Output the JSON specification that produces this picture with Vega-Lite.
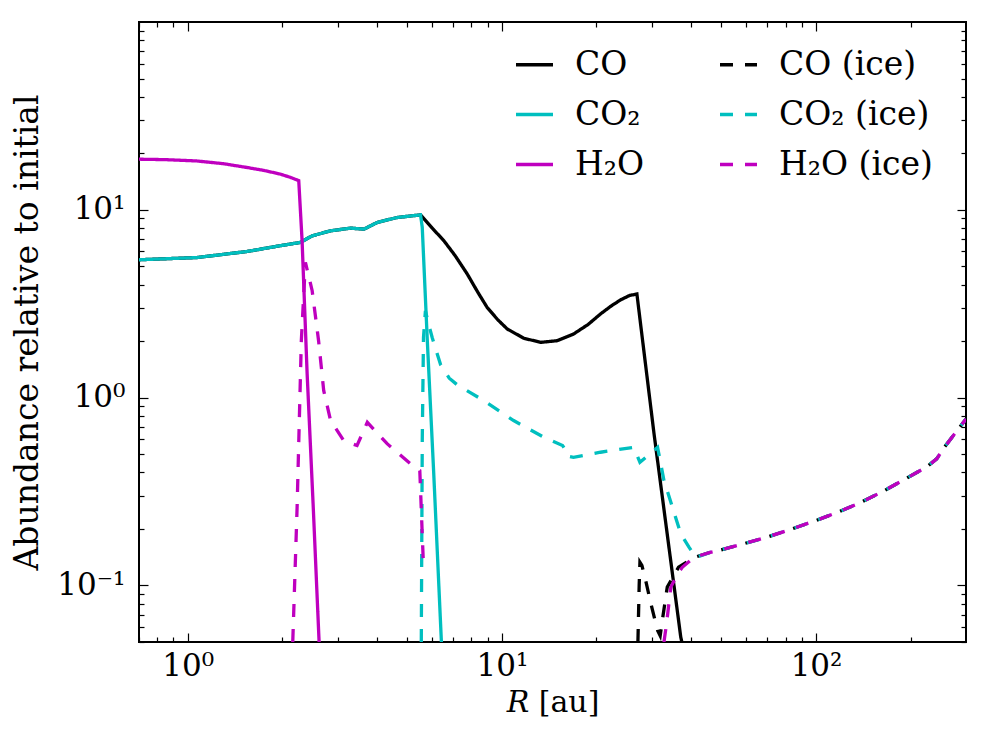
{
  "$schema": "https://vega.github.io/schema/vega-lite/v6.json",
  "width": 827,
  "height": 620,
  "autosize": {"type": "none"},
  "padding": {"left": 139, "top": 22, "right": 30, "bottom": 105},
  "background": "white",
  "config": {
    "font": "DejaVu Serif",
    "view": {"stroke": "black", "strokeWidth": 2},
    "axis": {
      "grid": false,
      "domain": false,
      "tickColor": "black",
      "tickWidth": 1.2,
      "labelColor": "black",
      "titleColor": "black",
      "labelFont": "DejaVu Serif",
      "titleFont": "DejaVu Serif",
      "labelFontSize": 31,
      "titleFontSize": 33,
      "titleFontWeight": "normal",
      "labelFlush": false,
      "labelOverlap": false
    },
    "legend": {
      "orient": "none",
      "legendX": 375,
      "legendY": 22,
      "columns": 2,
      "symbolType": "stroke",
      "symbolSize": 1369,
      "symbolStrokeWidth": 3.3,
      "labelFont": "DejaVu Serif",
      "labelFontSize": 33,
      "labelColor": "black",
      "labelOffset": 20,
      "labelLimit": 400,
      "columnPadding": 68,
      "rowPadding": 12,
      "padding": 0
    }
  },
  "data": {
    "values": [
      {"s": "CO", "p": 0, "x": 0.7, "y": 5.42},
      {"s": "CO", "p": 0, "x": 1.07, "y": 5.57},
      {"s": "CO", "p": 0, "x": 1.546, "y": 6.0},
      {"s": "CO", "p": 0, "x": 1.97, "y": 6.44},
      {"s": "CO", "p": 0, "x": 2.28, "y": 6.7},
      {"s": "CO", "p": 0, "x": 2.49, "y": 7.27},
      {"s": "CO", "p": 0, "x": 2.85, "y": 7.73},
      {"s": "CO", "p": 0, "x": 3.3, "y": 7.99},
      {"s": "CO", "p": 0, "x": 3.64, "y": 7.89},
      {"s": "CO", "p": 0, "x": 4.01, "y": 8.56},
      {"s": "CO", "p": 0, "x": 4.64, "y": 9.1},
      {"s": "CO", "p": 0, "x": 5.51, "y": 9.4},
      {"s": "CO", "p": 0, "x": 6.0, "y": 8.0},
      {"s": "CO", "p": 0, "x": 6.54, "y": 6.84},
      {"s": "CO", "p": 0, "x": 7.1, "y": 5.7},
      {"s": "CO", "p": 0, "x": 7.76, "y": 4.55},
      {"s": "CO", "p": 0, "x": 8.4, "y": 3.62},
      {"s": "CO", "p": 0, "x": 8.98, "y": 3.02},
      {"s": "CO", "p": 0, "x": 9.7, "y": 2.6},
      {"s": "CO", "p": 0, "x": 10.4, "y": 2.32},
      {"s": "CO", "p": 0, "x": 11.75, "y": 2.07},
      {"s": "CO", "p": 0, "x": 13.3, "y": 1.97},
      {"s": "CO", "p": 0, "x": 15.0, "y": 2.01},
      {"s": "CO", "p": 0, "x": 16.9, "y": 2.18},
      {"s": "CO", "p": 0, "x": 18.8, "y": 2.45},
      {"s": "CO", "p": 0, "x": 20.6, "y": 2.79},
      {"s": "CO", "p": 0, "x": 22.3, "y": 3.08},
      {"s": "CO", "p": 0, "x": 23.9, "y": 3.32},
      {"s": "CO", "p": 0, "x": 25.5, "y": 3.5},
      {"s": "CO", "p": 0, "x": 26.9, "y": 3.56},
      {"s": "CO", "p": 0, "x": 30.5, "y": 0.641},
      {"s": "CO", "p": 0, "x": 37.1, "y": 0.053},
      {"s": "CO", "p": 0, "x": 37.4, "y": 0.05},

      {"s": "CO₂", "p": 0, "x": 0.7, "y": 5.42},
      {"s": "CO₂", "p": 0, "x": 1.07, "y": 5.57},
      {"s": "CO₂", "p": 0, "x": 1.546, "y": 6.0},
      {"s": "CO₂", "p": 0, "x": 1.97, "y": 6.44},
      {"s": "CO₂", "p": 0, "x": 2.28, "y": 6.7},
      {"s": "CO₂", "p": 0, "x": 2.49, "y": 7.27},
      {"s": "CO₂", "p": 0, "x": 2.85, "y": 7.73},
      {"s": "CO₂", "p": 0, "x": 3.3, "y": 7.99},
      {"s": "CO₂", "p": 0, "x": 3.64, "y": 7.89},
      {"s": "CO₂", "p": 0, "x": 4.01, "y": 8.56},
      {"s": "CO₂", "p": 0, "x": 4.64, "y": 9.1},
      {"s": "CO₂", "p": 0, "x": 5.51, "y": 9.4},
      {"s": "CO₂", "p": 0, "x": 5.58, "y": 8.05},
      {"s": "CO₂", "p": 0, "x": 5.79, "y": 2.01},
      {"s": "CO₂", "p": 0, "x": 6.07, "y": 0.393},
      {"s": "CO₂", "p": 0, "x": 6.42, "y": 0.05},

      {"s": "H₂O", "p": 0, "x": 0.7, "y": 18.6},
      {"s": "H₂O", "p": 0, "x": 0.85, "y": 18.5},
      {"s": "H₂O", "p": 0, "x": 1.07, "y": 18.2},
      {"s": "H₂O", "p": 0, "x": 1.3, "y": 17.6},
      {"s": "H₂O", "p": 0, "x": 1.546, "y": 16.8},
      {"s": "H₂O", "p": 0, "x": 1.75, "y": 16.2},
      {"s": "H₂O", "p": 0, "x": 1.97, "y": 15.5},
      {"s": "H₂O", "p": 0, "x": 2.12, "y": 14.9},
      {"s": "H₂O", "p": 0, "x": 2.257, "y": 14.3},
      {"s": "H₂O", "p": 0, "x": 2.313, "y": 6.84},
      {"s": "H₂O", "p": 0, "x": 2.4, "y": 1.34},
      {"s": "H₂O", "p": 0, "x": 2.51, "y": 0.261},
      {"s": "H₂O", "p": 0, "x": 2.62, "y": 0.05},

      {"s": "CO (ice)", "p": 0, "x": 27.1, "y": 0.05},
      {"s": "CO (ice)", "p": 0, "x": 27.35, "y": 0.1},
      {"s": "CO (ice)", "p": 0, "x": 27.5, "y": 0.133},
      {"s": "CO (ice)", "p": 0, "x": 27.9, "y": 0.128},
      {"s": "CO (ice)", "p": 0, "x": 28.7, "y": 0.106},
      {"s": "CO (ice)", "p": 0, "x": 29.8, "y": 0.08},
      {"s": "CO (ice)", "p": 0, "x": 31.3, "y": 0.0576},
      {"s": "CO (ice)", "p": 0, "x": 31.9, "y": 0.054},
      {"s": "CO (ice)", "p": 0, "x": 32.4, "y": 0.065},
      {"s": "CO (ice)", "p": 0, "x": 33.6, "y": 0.098},
      {"s": "CO (ice)", "p": 0, "x": 36.5, "y": 0.125},
      {"s": "CO (ice)", "p": 0, "x": 40.9, "y": 0.141},
      {"s": "CO (ice)", "p": 0, "x": 46, "y": 0.15},
      {"s": "CO (ice)", "p": 0, "x": 48.6, "y": 0.153},
      {"s": "CO (ice)", "p": 0, "x": 59, "y": 0.167},
      {"s": "CO (ice)", "p": 0, "x": 70, "y": 0.181},
      {"s": "CO (ice)", "p": 0, "x": 83, "y": 0.199},
      {"s": "CO (ice)", "p": 0, "x": 98.6, "y": 0.22},
      {"s": "CO (ice)", "p": 0, "x": 117, "y": 0.245},
      {"s": "CO (ice)", "p": 0, "x": 139, "y": 0.277},
      {"s": "CO (ice)", "p": 0, "x": 165, "y": 0.32},
      {"s": "CO (ice)", "p": 0, "x": 195, "y": 0.374},
      {"s": "CO (ice)", "p": 0, "x": 226, "y": 0.43},
      {"s": "CO (ice)", "p": 0, "x": 242, "y": 0.472},
      {"s": "CO (ice)", "p": 0, "x": 256, "y": 0.544},
      {"s": "CO (ice)", "p": 0, "x": 300, "y": 0.77},

      {"s": "CO₂ (ice)", "p": 0, "x": 5.54, "y": 0.05},
      {"s": "CO₂ (ice)", "p": 0, "x": 5.58, "y": 0.6},
      {"s": "CO₂ (ice)", "p": 0, "x": 5.63, "y": 2.09},
      {"s": "CO₂ (ice)", "p": 0, "x": 5.71, "y": 2.9},
      {"s": "CO₂ (ice)", "p": 0, "x": 5.85, "y": 2.45},
      {"s": "CO₂ (ice)", "p": 0, "x": 6.0, "y": 2.09},
      {"s": "CO₂ (ice)", "p": 0, "x": 6.38, "y": 1.5},
      {"s": "CO₂ (ice)", "p": 0, "x": 6.8, "y": 1.27},
      {"s": "CO₂ (ice)", "p": 0, "x": 7.21, "y": 1.17},
      {"s": "CO₂ (ice)", "p": 0, "x": 8.76, "y": 0.964},
      {"s": "CO₂ (ice)", "p": 0, "x": 10.9, "y": 0.755},
      {"s": "CO₂ (ice)", "p": 0, "x": 13.6, "y": 0.615},
      {"s": "CO₂ (ice)", "p": 0, "x": 15.6, "y": 0.556},
      {"s": "CO₂ (ice)", "p": 0, "x": 15.9, "y": 0.53},
      {"s": "CO₂ (ice)", "p": 0, "x": 16.1, "y": 0.49},
      {"s": "CO₂ (ice)", "p": 0, "x": 16.9, "y": 0.481},
      {"s": "CO₂ (ice)", "p": 0, "x": 20.6, "y": 0.512},
      {"s": "CO₂ (ice)", "p": 0, "x": 26.3, "y": 0.544},
      {"s": "CO₂ (ice)", "p": 0, "x": 27.5, "y": 0.453},
      {"s": "CO₂ (ice)", "p": 0, "x": 28.7, "y": 0.481},
      {"s": "CO₂ (ice)", "p": 0, "x": 31.3, "y": 0.544},
      {"s": "CO₂ (ice)", "p": 0, "x": 32.8, "y": 0.362},
      {"s": "CO₂ (ice)", "p": 0, "x": 34.9, "y": 0.261},
      {"s": "CO₂ (ice)", "p": 0, "x": 37.1, "y": 0.188},
      {"s": "CO₂ (ice)", "p": 0, "x": 39.4, "y": 0.16},
      {"s": "CO₂ (ice)", "p": 0, "x": 41.4, "y": 0.141},
      {"s": "CO₂ (ice)", "p": 0, "x": 46, "y": 0.15},
      {"s": "CO₂ (ice)", "p": 0, "x": 48.6, "y": 0.153},
      {"s": "CO₂ (ice)", "p": 0, "x": 59, "y": 0.167},
      {"s": "CO₂ (ice)", "p": 0, "x": 70, "y": 0.181},
      {"s": "CO₂ (ice)", "p": 0, "x": 83, "y": 0.199},
      {"s": "CO₂ (ice)", "p": 0, "x": 98.6, "y": 0.22},
      {"s": "CO₂ (ice)", "p": 0, "x": 117, "y": 0.245},
      {"s": "CO₂ (ice)", "p": 0, "x": 139, "y": 0.277},
      {"s": "CO₂ (ice)", "p": 0, "x": 165, "y": 0.32},
      {"s": "CO₂ (ice)", "p": 0, "x": 195, "y": 0.374},
      {"s": "CO₂ (ice)", "p": 0, "x": 226, "y": 0.43},
      {"s": "CO₂ (ice)", "p": 0, "x": 242, "y": 0.472},
      {"s": "CO₂ (ice)", "p": 0, "x": 256, "y": 0.544},
      {"s": "CO₂ (ice)", "p": 0, "x": 300, "y": 0.77},

      {"s": "H₂O (ice)", "p": 1, "x": 2.16, "y": 0.05},
      {"s": "H₂O (ice)", "p": 1, "x": 2.23, "y": 0.261},
      {"s": "H₂O (ice)", "p": 1, "x": 2.3, "y": 2.01},
      {"s": "H₂O (ice)", "p": 1, "x": 2.37, "y": 5.25},
      {"s": "H₂O (ice)", "p": 1, "x": 2.49, "y": 3.71},
      {"s": "H₂O (ice)", "p": 1, "x": 2.61, "y": 2.01},
      {"s": "H₂O (ice)", "p": 1, "x": 2.71, "y": 1.09},
      {"s": "H₂O (ice)", "p": 1, "x": 2.85, "y": 0.755},
      {"s": "H₂O (ice)", "p": 1, "x": 3.14, "y": 0.59},
      {"s": "H₂O (ice)", "p": 1, "x": 3.46, "y": 0.556},
      {"s": "H₂O (ice)", "p": 1, "x": 3.73, "y": 0.739},
      {"s": "H₂O (ice)", "p": 1, "x": 4.32, "y": 0.567},
      {"s": "H₂O (ice)", "p": 1, "x": 5.12, "y": 0.444},
      {"s": "H₂O (ice)", "p": 1, "x": 5.48, "y": 0.409},
      {"s": "H₂O (ice)", "p": 1, "x": 5.62, "y": 0.136},
      {"s": "H₂O (ice)", "p": 2, "x": 32.8, "y": 0.05},
      {"s": "H₂O (ice)", "p": 2, "x": 33.4, "y": 0.062},
      {"s": "H₂O (ice)", "p": 2, "x": 34.5, "y": 0.098},
      {"s": "H₂O (ice)", "p": 2, "x": 36.2, "y": 0.115},
      {"s": "H₂O (ice)", "p": 2, "x": 37.5, "y": 0.125},
      {"s": "H₂O (ice)", "p": 2, "x": 40.9, "y": 0.141},
      {"s": "H₂O (ice)", "p": 2, "x": 46, "y": 0.15},
      {"s": "H₂O (ice)", "p": 2, "x": 48.6, "y": 0.153},
      {"s": "H₂O (ice)", "p": 2, "x": 59, "y": 0.167},
      {"s": "H₂O (ice)", "p": 2, "x": 70, "y": 0.181},
      {"s": "H₂O (ice)", "p": 2, "x": 83, "y": 0.199},
      {"s": "H₂O (ice)", "p": 2, "x": 98.6, "y": 0.22},
      {"s": "H₂O (ice)", "p": 2, "x": 117, "y": 0.245},
      {"s": "H₂O (ice)", "p": 2, "x": 139, "y": 0.277},
      {"s": "H₂O (ice)", "p": 2, "x": 165, "y": 0.32},
      {"s": "H₂O (ice)", "p": 2, "x": 195, "y": 0.374},
      {"s": "H₂O (ice)", "p": 2, "x": 226, "y": 0.43},
      {"s": "H₂O (ice)", "p": 2, "x": 242, "y": 0.472},
      {"s": "H₂O (ice)", "p": 2, "x": 256, "y": 0.544},
      {"s": "H₂O (ice)", "p": 2, "x": 300, "y": 0.77}
    ]
  },
  "layer": [
    {
      "mark": {"type": "line", "strokeWidth": 3.3, "clip": true, "strokeCap": "butt"},
      "encoding": {
        "x": {
          "field": "x", "type": "quantitative",
          "scale": {"type": "log", "domain": [0.7, 300], "nice": false},
          "axis": {
            "orient": "bottom",
            "title": "𝑅 [au]",
            "titleFontSize": 30,
            "titlePadding": 2,
            "values": [0.7, 0.8, 0.9, 1, 2, 3, 4, 5, 6, 7, 8, 9, 10, 20, 30, 40, 50, 60, 70, 80, 90, 100, 200],
            "labelExpr": "datum.value == 1 ? '10⁰' : datum.value == 10 ? '10¹' : datum.value == 100 ? '10²' : ''",
            "tickSize": {"condition": {"test": "datum.value == 1 || datum.value == 10 || datum.value == 100", "value": -9}, "value": -5},
            "labelPadding": 18
          }
        },
        "y": {
          "field": "y", "type": "quantitative",
          "scale": {"type": "log", "domain": [0.05, 100], "nice": false},
          "axis": {
            "orient": "left",
            "title": "Abundance relative to initial",
            "titlePadding": 12,
            "values": [0.05, 0.06, 0.07, 0.08, 0.09, 0.1, 0.2, 0.3, 0.4, 0.5, 0.6, 0.7, 0.8, 0.9, 1, 2, 3, 4, 5, 6, 7, 8, 9, 10, 20, 30, 40, 50, 60, 70, 80, 90],
            "labelExpr": "datum.value == 0.1 ? '10⁻¹' : datum.value == 1 ? '10⁰' : datum.value == 10 ? '10¹' : ''",
            "tickSize": {"condition": {"test": "datum.value == 0.1 || datum.value == 1 || datum.value == 10", "value": -9}, "value": -5},
            "labelPadding": 23
          }
        },
        "color": {
          "field": "s", "type": "nominal",
          "scale": {
            "domain": ["CO", "CO₂", "H₂O", "CO (ice)", "CO₂ (ice)", "H₂O (ice)"],
            "range": ["#000000", "#00bfbf", "#bf00bf", "#000000", "#00bfbf", "#bf00bf"]
          },
          "legend": {"title": null}
        },
        "strokeDash": {
          "field": "s", "type": "nominal",
          "scale": {
            "domain": ["CO", "CO₂", "H₂O", "CO (ice)", "CO₂ (ice)", "H₂O (ice)"],
            "range": [[1, 0], [1, 0], [1, 0], [13, 12], [13, 12], [13, 12]]
          },
          "legend": {"title": null}
        },
        "detail": {"field": "p", "type": "nominal"}
      }
    },
    {
      "mark": {"type": "line", "opacity": 0},
      "encoding": {
        "x": {
          "field": "x", "type": "quantitative",
          "axis": {
            "orient": "top",
            "title": null,
            "labels": false,
            "values": [0.7, 0.8, 0.9, 1, 2, 3, 4, 5, 6, 7, 8, 9, 10, 20, 30, 40, 50, 60, 70, 80, 90, 100, 200],
            "tickSize": {"condition": {"test": "datum.value == 1 || datum.value == 10 || datum.value == 100", "value": -9}, "value": -5}
          }
        },
        "y": {
          "field": "y", "type": "quantitative",
          "axis": {
            "orient": "right",
            "title": null,
            "labels": false,
            "values": [0.05, 0.06, 0.07, 0.08, 0.09, 0.1, 0.2, 0.3, 0.4, 0.5, 0.6, 0.7, 0.8, 0.9, 1, 2, 3, 4, 5, 6, 7, 8, 9, 10, 20, 30, 40, 50, 60, 70, 80, 90],
            "tickSize": {"condition": {"test": "datum.value == 0.1 || datum.value == 1 || datum.value == 10", "value": -9}, "value": -5}
          }
        },
        "detail": {"field": "s", "type": "nominal"}
      }
    }
  ],
  "resolve": {"axis": {"x": "independent", "y": "independent"}}
}
